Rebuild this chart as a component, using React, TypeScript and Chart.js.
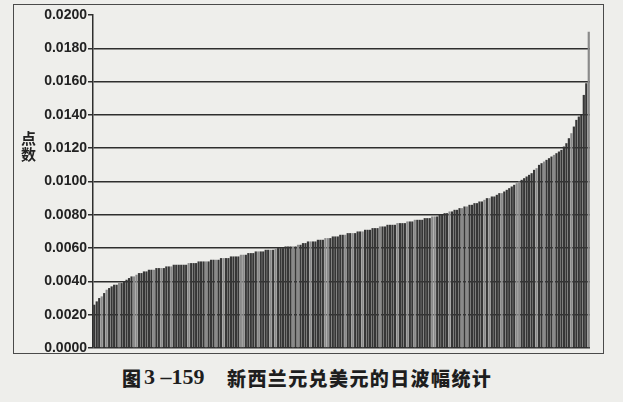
import React, { useEffect, useRef } from "react";
import { Chart, registerables } from "chart.js";

Chart.register(...registerables);

// Daily ranges of NZD/USD, sorted ascending
const dailyRanges: number[] = [
  0.0026, 0.0028, 0.0030, 0.0031, 0.0033, 0.0035, 0.0036, 0.0037, 0.0038, 0.0038,
  0.0039, 0.0039, 0.0040, 0.0041, 0.0042, 0.0043, 0.0043, 0.0044, 0.0045, 0.0045,
  0.0046, 0.0046, 0.0047, 0.0047, 0.0047, 0.0048, 0.0048, 0.0048, 0.0048, 0.0049,
  0.0049, 0.0049, 0.0050, 0.0050, 0.0050, 0.0050, 0.0050, 0.0050, 0.0051, 0.0051,
  0.0051, 0.0051, 0.0052, 0.0052, 0.0052, 0.0052, 0.0052, 0.0053, 0.0053, 0.0053,
  0.0053, 0.0054, 0.0054, 0.0054, 0.0054, 0.0055, 0.0055, 0.0055, 0.0055, 0.0056,
  0.0056, 0.0056, 0.0057, 0.0057, 0.0057, 0.0058, 0.0058, 0.0058, 0.0058, 0.0059,
  0.0059, 0.0059, 0.0059, 0.0060, 0.0060, 0.0060, 0.0060, 0.0061, 0.0061, 0.0061,
  0.0061, 0.0061, 0.0062, 0.0062, 0.0063, 0.0063, 0.0064, 0.0064, 0.0064, 0.0064,
  0.0065, 0.0065, 0.0065, 0.0066, 0.0066, 0.0066, 0.0067, 0.0067, 0.0067, 0.0068,
  0.0068, 0.0068, 0.0069, 0.0069, 0.0069, 0.0069, 0.0070, 0.0070, 0.0070, 0.0071,
  0.0071, 0.0071, 0.0072, 0.0072, 0.0072, 0.0073, 0.0073, 0.0073, 0.0074, 0.0074,
  0.0074, 0.0074, 0.0075, 0.0075, 0.0075, 0.0075, 0.0076, 0.0076, 0.0076, 0.0077,
  0.0077, 0.0077, 0.0077, 0.0078, 0.0078, 0.0078, 0.0079, 0.0079, 0.0079, 0.0080,
  0.0080, 0.0081, 0.0081, 0.0082, 0.0082, 0.0083, 0.0083, 0.0084, 0.0084, 0.0085,
  0.0085, 0.0086, 0.0086, 0.0087, 0.0087, 0.0088, 0.0088, 0.0089, 0.0090, 0.0090,
  0.0091, 0.0091, 0.0092, 0.0093, 0.0093, 0.0094, 0.0095, 0.0096, 0.0097, 0.0098,
  0.0099, 0.0100, 0.0101, 0.0102, 0.0103, 0.0104, 0.0105, 0.0107, 0.0108, 0.0110,
  0.0111, 0.0112, 0.0113, 0.0114, 0.0115, 0.0116, 0.0117, 0.0118, 0.0119, 0.0121,
  0.0123, 0.0126, 0.0129, 0.0133, 0.0137, 0.0139, 0.0140, 0.0152, 0.0159, 0.0190,
];

const dayLabels: string[] = dailyRanges.map((_, i) => String(i + 1));

const yMin = 0;
const yMax = 0.02;
const yStep = 0.002;

const yAxisTitle = ["点", "数"];
const captionFig = "图";
const captionNum = "3 –159";
const captionText = "新西兰元兑美元的日波幅统计";

export default function App() {
  const canvasRef = useRef<HTMLCanvasElement | null>(null);

  useEffect(() => {
    document.body.style.margin = "0";
    const canvas = canvasRef.current;
    if (!canvas) return;
    const chart = new Chart(canvas, {
      type: "bar",
      data: {
        labels: dayLabels,
        datasets: [
          {
            data: dailyRanges,
            backgroundColor: (ctx: any) => {
              const i = ctx.dataIndex;
              return i % 7 === 3 || i % 11 === 5 ? "#8a8a8a" : "#363636";
            },
            borderWidth: 0,
            barPercentage: 0.88,
            categoryPercentage: 1,
          },
        ],
      },
      options: {
        animation: false,
        responsive: false,
        maintainAspectRatio: false,
        devicePixelRatio: 1,
        layout: { padding: { left: 0, top: 15, right: 33, bottom: 12 } },
        plugins: {
          legend: { display: false },
          tooltip: { enabled: false },
          title: { display: false },
        },
        scales: {
          x: {
            display: false,
            offset: true,
            grid: { display: false },
          },
          y: {
            min: yMin,
            max: yMax,
            z: 1,
            afterFit: (scale: any) => {
              scale.width = 93;
            },
            ticks: {
              stepSize: yStep,
              padding: 1,
              color: "#222",
              font: { family: "'Liberation Sans', Arial, sans-serif", size: 14, weight: "bold" },
              callback: (v: any) => Number(v).toFixed(4),
            },
            grid: {
              color: (ctx: any) =>
                ctx.tick && ctx.tick.value >= yMax - 1e-9 ? "rgba(0,0,0,0)" : "#2e2e2e",
              tickColor: "#2e2e2e",
              lineWidth: 1.5,
              tickLength: 5,
              drawTicks: true,
            },
            border: { display: true, color: "#2e2e2e", width: 1.5 },
          },
        },
      },
    });
    return () => chart.destroy();
  }, []);

  const cjk = "'Noto Sans CJK SC', 'Noto Sans', sans-serif";

  return (
    <div
      style={{
        position: "absolute",
        left: 0,
        top: 0,
        width: 623,
        height: 402,
        background: "#eeeeeb",
        overflow: "hidden",
      }}
    >
      <div
        style={{
          position: "absolute",
          left: 13,
          top: 4,
          width: 589,
          height: 348,
          border: "1.5px solid #4a4a4a",
        }}
      />
      <canvas
        ref={canvasRef}
        width={623}
        height={360}
        style={{ position: "absolute", left: 0, top: 0, width: 623, height: 360 }}
      />
      {yAxisTitle.map((c, i) => (
        <div
          key={c}
          style={{
            position: "absolute",
            left: 21,
            top: 130 + i * 16,
            fontFamily: cjk,
            fontWeight: 700,
            fontSize: 15,
            lineHeight: "15px",
            height: 15,
            color: "#222",
          }}
        >
          {c}
        </div>
      ))}
      <div
        style={{
          position: "absolute",
          left: 122,
          top: 368,
          fontFamily: cjk,
          fontWeight: 900,
          fontSize: 19,
          lineHeight: "19px",
          color: "#1e1e1e",
          whiteSpace: "nowrap",
        }}
      >
        {captionFig}
      </div>
      <div
        style={{
          position: "absolute",
          left: 144,
          top: 366,
          fontFamily: "'Liberation Serif', 'Times New Roman', serif",
          fontWeight: 700,
          fontSize: 22,
          lineHeight: "22px",
          color: "#1e1e1e",
          whiteSpace: "nowrap",
        }}
      >
        {captionNum}
      </div>
      <div
        style={{
          position: "absolute",
          left: 227,
          top: 368,
          fontFamily: cjk,
          fontWeight: 900,
          fontSize: 19,
          lineHeight: "19px",
          letterSpacing: "1.4px",
          color: "#1e1e1e",
          whiteSpace: "nowrap",
        }}
      >
        {captionText}
      </div>
    </div>
  );
}
